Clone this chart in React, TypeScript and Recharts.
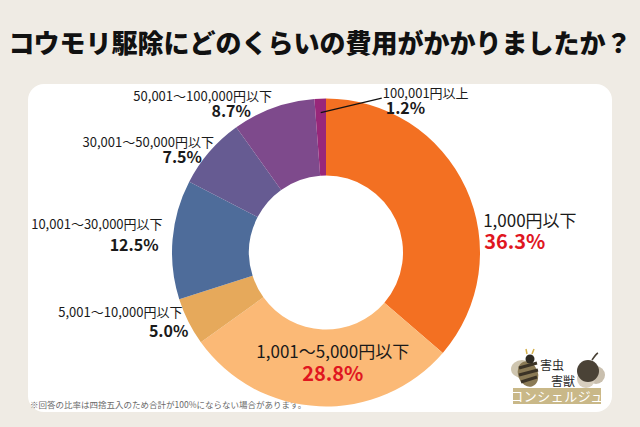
import { PieChart, Pie, Cell } from 'recharts'

const FONT = '"Noto Sans CJK JP", "Noto Sans", sans-serif'

const categories = [
  '1,000円以下',
  '1,001～5,000円以下',
  '5,001～10,000円以下',
  '10,001～30,000円以下',
  '30,001～50,000円以下',
  '50,001～100,000円以下',
  '100,001円以上',
]
const shares = [36.3, 28.8, 5.0, 12.5, 7.5, 8.7, 1.2]
const colors = ['#f37022', '#fbb976', '#e6a95b', '#4e6c9a', '#665b92', '#7e4a8c', '#98277a']

// label placement: polar point at outerRadius + ext, then shifted by dx/dy
interface LabelSpot {
  ext: number
  dx: number
  dy: number
  pdx: number
  gap: number
  anchor: 'start' | 'middle' | 'end'
  big: boolean
  leader?: boolean
}

const labelSpots: LabelSpot[] = [
  { ext: 20, dx: -1, dy: 47, pdx: 1, gap: 22, anchor: 'start', big: true },
  { ext: -58, dx: 11, dy: 10, pdx: 0, gap: 23, anchor: 'middle', big: true },
  { ext: 10, dx: 3, dy: -9, pdx: 6, gap: 20, anchor: 'end', big: false },
  { ext: 10, dx: 0, dy: -10, pdx: -4, gap: 22, anchor: 'end', big: false },
  { ext: 10, dx: 12, dy: 2, pdx: -12, gap: 15.5, anchor: 'end', big: false },
  { ext: 10, dx: 2, dy: 3, pdx: -21, gap: 16, anchor: 'end', big: false },
  { ext: -14, dx: 62, dy: -14.5, pdx: 3, gap: 16, anchor: 'start', big: false, leader: true },
]

const chartData = categories.map((name, i) => ({ name, value: shares[i] }))

const RADIAN = Math.PI / 180
const NO_MARGIN = { top: 0, right: 0, bottom: 0, left: 0 }

interface LabelProps {
  cx: number
  cy: number
  midAngle: number
  outerRadius: number
  index: number
}

function SliceLabel({ cx, cy, midAngle, outerRadius, index }: LabelProps) {
  const spot = labelSpots[index]
  const r = outerRadius + spot.ext
  const px = cx + r * Math.cos(-midAngle * RADIAN)
  const py = cy + r * Math.sin(-midAngle * RADIAN)
  const x = px + spot.dx
  const y = py + spot.dy
  return (
    <g>
      {spot.leader && (
        <line x1={px} y1={py} x2={x - 1} y2={y} stroke="#111" strokeWidth={1.3} />
      )}
      <text
        x={x}
        y={y}
        textAnchor={spot.anchor}
        fontFamily={FONT}
        fontSize={spot.big ? 17 : 13}
        fill="#1a1a1a"
      >
        {categories[index]}
      </text>
      <text
        x={x + spot.pdx}
        y={y + spot.gap}
        textAnchor={spot.anchor}
        fontFamily={FONT}
        fontSize={spot.big ? 20 : 16}
        fontWeight={700}
        fill={spot.big ? '#e0161f' : '#1a1a1a'}
      >
        {shares[index].toFixed(1)}%
      </text>
    </g>
  )
}

function Logo() {
  return (
    <svg width={640} height={427} style={{ position: 'absolute', left: 0, top: 0 }}>
      {/* bee */}
      <ellipse cx={522} cy={369} rx={11} ry={9} fill="#cfc6b0" />
      <ellipse cx={528} cy={374} rx={10} ry={13} fill="#8a7a55" transform="rotate(-20 528 374)" />
      <path d="M519 368 L537 363 M519 375 L538 370 M521 382 L537 377" stroke="#3b3326" strokeWidth={3} />
      <circle cx={530} cy={359} r={4.5} fill="#2e2a22" />
      <line x1={527} y1={354} x2={526} y2={349} stroke="#d4b04a" strokeWidth={1.5} />
      <line x1={532} y1={354} x2={534} y2={349} stroke="#d4b04a" strokeWidth={1.5} />
      {/* mouse */}
      <circle cx={596} cy={375} r={9} fill="#c9bfae" />
      <circle cx={586} cy={379} r={9} fill="#d8cfbf" />
      <circle cx={588} cy={371} r={11} fill="#4a4236" />
      <path d="M592 360 Q596 354 598 353" stroke="#4a4236" strokeWidth={1.5} fill="none" />
      <text x={552} y={370} textAnchor="middle" fontFamily={FONT} fontSize={12} fill="#2a2a2a">
        害虫
      </text>
      <text x={563} y={386} textAnchor="middle" fontFamily={FONT} fontSize={12} fill="#2a2a2a">
        害獣
      </text>
      <rect x={513} y={388} width={88} height={16} fill="#c9b888" />
      <text x={557} y={401} textAnchor="middle" fontFamily={FONT} fontSize={13} fill="#ffffff" letterSpacing={0.5}>
        コンシェルジュ
      </text>
    </svg>
  )
}

export default function App() {
  return (
    <div
      style={{
        position: 'absolute',
        left: 0,
        top: 0,
        width: 640,
        height: 427,
        background: '#efebe4',
        fontFamily: FONT,
        overflow: 'hidden',
      }}
    >
      <div
        style={{
          position: 'absolute',
          left: 0,
          top: 26,
          width: 640,
          textAlign: 'center',
          fontSize: 26,
          fontWeight: 900,
          color: '#111',
          lineHeight: '32px',
          letterSpacing: 0,
        }}
      >
        コウモリ駆除にどのくらいの費用がかかりましたか？
      </div>
      <div
        style={{
          position: 'absolute',
          left: 28,
          top: 84,
          width: 584,
          height: 328,
          background: '#ffffff',
          borderRadius: 16,
        }}
      />
      <div
        style={{
          position: 'absolute',
          left: 30,
          top: 398,
          fontSize: 8.5,
          color: '#6a6a6a',
          lineHeight: '12px',
        }}
      >
        ※回答の比率は四捨五入のため合計が100%にならない場合があります。
      </div>
      <Logo />
      <div style={{ position: 'absolute', left: 0, top: 0 }}>
        <PieChart width={640} height={427} margin={NO_MARGIN}>
          <Pie
            data={chartData}
            dataKey="value"
            nameKey="name"
            cx={326}
            cy={252.5}
            innerRadius={77}
            outerRadius={154}
            startAngle={90}
            endAngle={-270}
            stroke="none"
            labelLine={false}
            label={(props: LabelProps) => <SliceLabel {...props} />}
            isAnimationActive={false}
          >
            {chartData.map((entry, i) => (
              <Cell key={entry.name} fill={colors[i]} />
            ))}
          </Pie>
        </PieChart>
      </div>
    </div>
  )
}
